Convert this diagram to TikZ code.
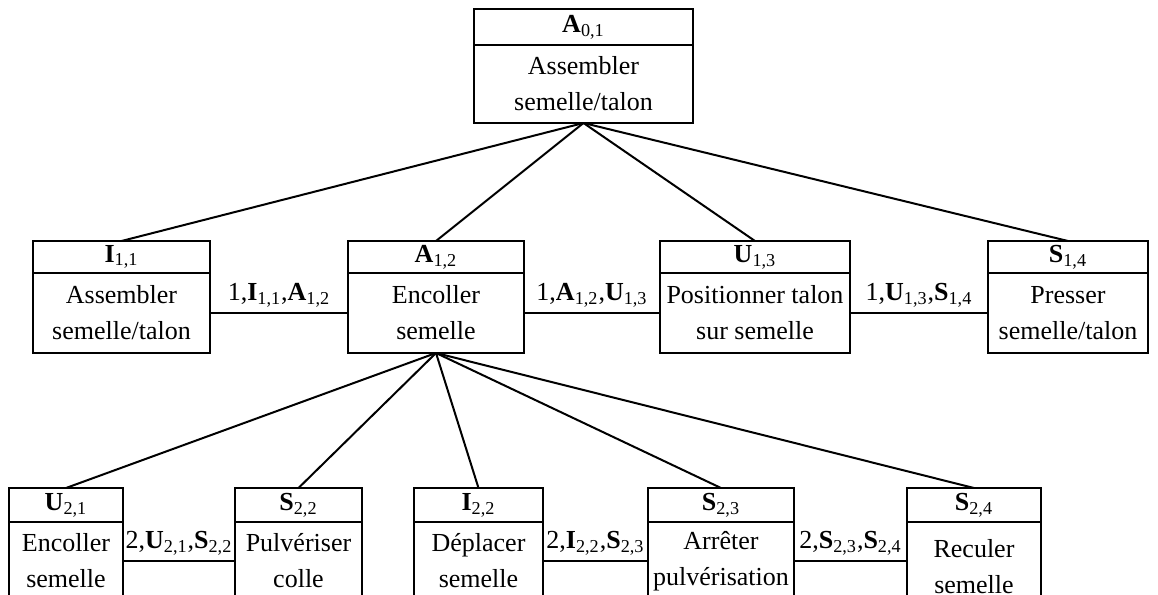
\documentclass[tikz,border=0pt]{standalone}
\usepackage{fontspec}
\setmainfont{Liberation Serif}
\usepackage{tikz}
\usetikzlibrary{calc}

\tikzset{
    hd/.style={draw, line width=1pt, inner sep=0pt, outer sep=0pt},
    bd/.style={draw, line width=1pt, inner sep=0pt, outer sep=0pt, align=center, anchor=north},
    lnk/.style={line width=1pt},
    lbl/.style={inner sep=2.5pt}
}

\begin{document}
\begin{tikzpicture}[x=0.5pt, y=-0.5pt, font=\fontsize{13}{18}\selectfont]
    \useasboundingbox (0,0) rectangle (1158,595);
    \clip (0,0) rectangle (1158,595);

    \node[hd, minimum width=109.5pt, minimum height=18pt, anchor=north west] (a01h) at (474,9) {\textbf{A}\textsubscript{0,1}};
    \node[bd, minimum width=109.5pt, minimum height=39pt] (a01) at (a01h.south) {Assembler\\semelle/talon};

    \node[hd, minimum width=88.5pt, minimum height=16pt, anchor=north west] (i11h) at (33,241) {\textbf{I}\textsubscript{1,1}};
    \node[bd, minimum width=88.5pt, minimum height=40pt] (i11) at (i11h.south) {Assembler\\semelle/talon};

    \node[hd, minimum width=88pt, minimum height=16pt, anchor=north west] (a12h) at (348,241) {\textbf{A}\textsubscript{1,2}};
    \node[bd, minimum width=88pt, minimum height=40pt] (a12) at (a12h.south) {Encoller\\semelle};

    \node[hd, minimum width=95pt, minimum height=16pt, anchor=north west] (u13h) at (660,241) {\textbf{U}\textsubscript{1,3}};
    \node[bd, minimum width=95pt, minimum height=40pt] (u13) at (u13h.south) {Positionner talon\\sur semelle};

    \node[hd, minimum width=80pt, minimum height=16pt, anchor=north west] (s14h) at (988,241) {\textbf{S}\textsubscript{1,4}};
    \node[bd, minimum width=80pt, minimum height=40pt] (s14) at (s14h.south) {Presser\\semelle/talon};

    \node[hd, minimum width=57pt, minimum height=17pt, anchor=north west] (u21h) at (9,488) {\textbf{U}\textsubscript{2,1}};
    \node[bd, minimum width=57pt, minimum height=39pt] (u21) at (u21h.south) {Encoller\\semelle};

    \node[hd, minimum width=63.5pt, minimum height=17pt, anchor=north west] (s22h) at (235,488) {\textbf{S}\textsubscript{2,2}};
    \node[bd, minimum width=63.5pt, minimum height=39pt] (s22) at (s22h.south) {Pulvériser\\colle};

    \node[hd, minimum width=64.5pt, minimum height=17pt, anchor=north west] (i22h) at (414,488) {\textbf{I}\textsubscript{2,2}};
    \node[bd, minimum width=64.5pt, minimum height=39pt] (i22) at (i22h.south) {Déplacer\\semelle};

    \node[hd, minimum width=73pt, minimum height=17pt, anchor=north west] (s23h) at (648,488) {\textbf{S}\textsubscript{2,3}};
    \node[bd, minimum width=73pt, minimum height=39pt] (s23) at (s23h.south) {Arrêter\\pulvérisation};

    \node[hd, minimum width=67pt, minimum height=17pt, anchor=north west] (s24h) at (907,488) {\textbf{S}\textsubscript{2,4}};
    \node[bd, minimum width=67pt, minimum height=45pt] (s24) at (s24h.south) {Reculer\\semelle};

    \draw[lnk] (a01.south) -- (i11h.north);
    \draw[lnk] (a01.south) -- (a12h.north);
    \draw[lnk] (a01.south) -- (u13h.north);
    \draw[lnk] (a01.south) -- (s14h.north);

    \draw[lnk] (a12.south) -- (u21h.north);
    \draw[lnk] (a12.south) -- (s22h.north);
    \draw[lnk] (a12.south) -- (i22h.north);
    \draw[lnk] (a12.south) -- (s23h.north);
    \draw[lnk] (a12.south) -- (s24h.north);

    \draw[lnk] (i11.east) -- node[above, lbl] (l1) {1,\textbf{I}\textsubscript{1,1},\textbf{A}\textsubscript{1,2}} (a12.west);
    \draw[lnk] (a12.east) -- node[above, lbl] (l2) {1,\textbf{A}\textsubscript{1,2},\textbf{U}\textsubscript{1,3}} (u13.west);
    \draw[lnk] (u13.east) -- node[above, lbl] (l3) {1,\textbf{U}\textsubscript{1,3},\textbf{S}\textsubscript{1,4}} (s14.west);

    \draw[lnk] (u21.east) -- node[above, lbl] (l4) {2,\textbf{U}\textsubscript{2,1},\textbf{S}\textsubscript{2,2}} (s22.west);
    \draw[lnk] (i22.east) -- node[above, lbl] (l5) {2,\textbf{I}\textsubscript{2,2},\textbf{S}\textsubscript{2,3}} (s23.west);
    \draw[lnk] (s23.east) -- node[above, lbl] (l6) {2,\textbf{S}\textsubscript{2,3},\textbf{S}\textsubscript{2,4}} (s23.east -| s24.west);
\end{tikzpicture}
\end{document}
